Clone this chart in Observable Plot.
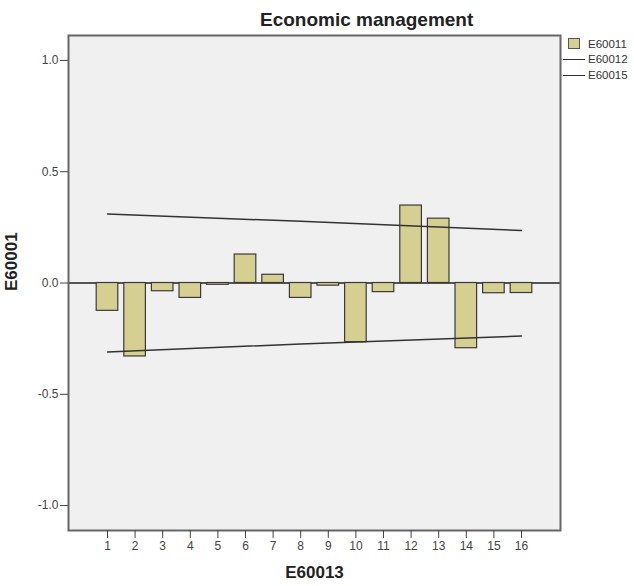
<!DOCTYPE html>
<html>
<head>
<meta charset="utf-8">
<script src="https://cdn.jsdelivr.net/npm/d3@7"></script>
<script src="https://cdn.jsdelivr.net/npm/@observablehq/plot@0.6"></script>
<style>
  html, body { margin: 0; padding: 0; background: #ffffff; }
  #wrap { position: relative; width: 634px; height: 586px; font-family: "Liberation Sans", Arial, sans-serif; }
  #title { position: absolute; left: 260px; top: 10px; font-size: 19px; line-height: 19px; font-weight: bold; color: #222; white-space: nowrap; }
  .leg { position: absolute; font-size: 11.5px; line-height: 12px; color: #333; white-space: nowrap; }
  .sw { position: absolute; box-sizing: border-box; width: 12px; height: 11px; background: #d6cf92; border: 1px solid #555; }
  .ln { position: absolute; height: 0; border-top: 1.5px solid #333; width: 22px; }
  svg { position: absolute; left: 0; top: 0; }
</style>
</head>
<body>
<div id="wrap">
  <div id="title">Economic management</div>
  <div class="sw" style="left:568px; top:38px;"></div>
  <div class="leg" style="left:588px; top:38px;">E60011</div>
  <div class="ln" style="left:563px; top:59px;"></div>
  <div class="leg" style="left:588px; top:53px;">E60012</div>
  <div class="ln" style="left:563px; top:75px;"></div>
  <div class="leg" style="left:588px; top:69px;">E60015</div>
</div>
<script>
// Data
const lags = [1, 2, 3, 4, 5, 6, 7, 8, 9, 10, 11, 12, 13, 14, 15, 16];
const acfValues = [-0.125, -0.33, -0.037, -0.067, -0.008, 0.128, 0.037, -0.067, -0.012, -0.266, -0.041, 0.348, 0.289, -0.293, -0.046, -0.045];
const limitLags = [1, 8, 16];
const upperLimit = [0.31, 0.277, 0.236];
const lowerLimit = [-0.31, -0.274, -0.238];
const yTicks = [-1, -0.5, 0, 0.5, 1];
const yTickLabels = ["-1.0", "-0.5", "0.0", "0.5", "1.0"];
const xLabel = "E60013";
const yLabel = "E60001";

const bars = lags.map((lag, i) => ({lag, value: acfValues[i]}));
const limits = limitLags.map((lag, i) => ({lag, upper: upperLimit[i], lower: lowerLimit[i]}));

const chart = Plot.plot({
  width: 634,
  height: 586,
  marginTop: 35,
  marginRight: 74,
  marginBottom: 56,
  marginLeft: 68,
  style: {fontFamily: "'Liberation Sans', Arial, sans-serif", fontSize: "12px", color: "#444", background: "transparent"},
  x: {domain: [-0.413, 17.413]},
  y: {domain: [-1.112, 1.112]},
  marks: [
    Plot.frame({fill: "#f0f0f0"}),
    Plot.ruleY([0], {stroke: "#222", strokeWidth: 1.3}),
    Plot.rectY(bars, {
      x1: d => d.lag - 0.5,
      x2: d => d.lag + 0.5,
      y: "value",
      insetLeft: 3,
      insetRight: 3,
      fill: "#d6cf92",
      stroke: "#3a3a3a",
      strokeWidth: 1.2
    }),
    Plot.line(limits, {x: "lag", y: "upper", stroke: "#333", strokeWidth: 1.5}),
    Plot.line(limits, {x: "lag", y: "lower", stroke: "#333", strokeWidth: 1.5}),
    Plot.frame({stroke: "#666", strokeWidth: 2}),
    Plot.axisX({ticks: lags, tickFormat: d => String(d), tickSize: 8, tickPadding: 3, label: null, stroke: "#444", fill: "#444"}),
    Plot.axisY({ticks: yTicks, tickFormat: d => yTickLabels[yTicks.indexOf(d)], tickSize: 8, tickPadding: 2, label: null, stroke: "#444", fill: "#444"}),
    Plot.text([xLabel], {frameAnchor: "bottom", dy: 47, text: d => d, fontSize: 17, fontWeight: "bold", fill: "#222"}),
    Plot.text([yLabel], {frameAnchor: "left", dx: -57, dy: 8, rotate: -90, text: d => d, fontSize: 17, fontWeight: "bold", fill: "#222"})
  ]
});
document.getElementById("wrap").prepend(chart);
</script>
</body>
</html>
